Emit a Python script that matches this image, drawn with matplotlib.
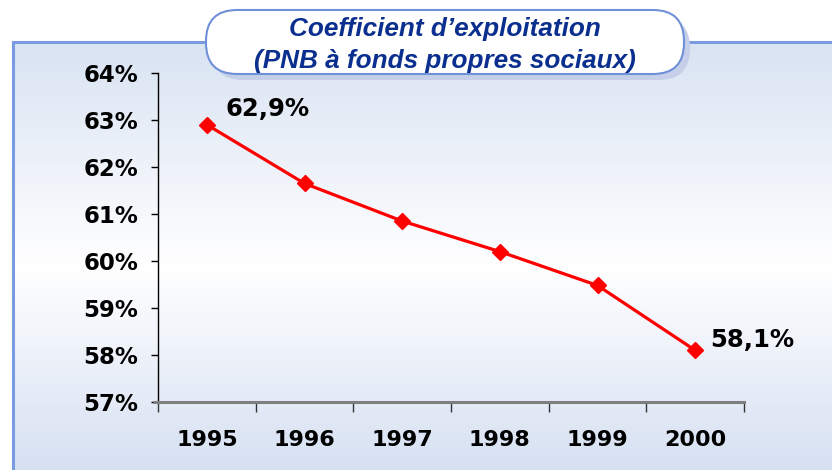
import matplotlib.pyplot as plt
import numpy as np
from matplotlib.patches import FancyBboxPatch
from matplotlib.ticker import FuncFormatter

years = ["1995", "1996", "1997", "1998", "1999", "2000"]
ratio = [62.9, 61.65, 60.85, 60.2, 59.48, 58.1]
y_ticks = [57, 58, 59, 60, 61, 62, 63, 64]
title_lines = ["Coefficient d\u2019exploitation", "(PNB \u00e0 fonds propres sociaux)"]

W, H = 832, 470
fig = plt.figure(figsize=(W / 100, H / 100), dpi=100)

# background layer in pixel units
bg = fig.add_axes([0, 0, 1, 1])
bg.set_xlim(0, W)
bg.set_ylim(H, 0)
bg.axis("off")

# vertical gradient panel: light blue -> white -> light blue
top = np.array([0.85, 0.89, 0.95])
mid = np.array([1.0, 1.0, 1.0])
bot = np.array([0.84, 0.88, 0.95])
t = np.linspace(0, 1, 256)[:, None]
split = 0.52
grad = np.where(t < split,
                top + (mid - top) * (t / split),
                mid + (bot - mid) * ((t - split) / (1 - split)))
img = np.repeat(grad[:, None, :], 2, axis=1)
bg.imshow(img, extent=(13, W + 2, H + 2, 42), aspect="auto", zorder=0)
bg.plot([13, 13, W + 2], [H + 2, 42, 42], color="#7b9be0", lw=2.2, zorder=1,
        solid_joinstyle="miter")

# title box with soft shadow
shadow = FancyBboxPatch((212, 17), 478, 63,
                        boxstyle="round,pad=0,rounding_size=31",
                        fc="#c5cfea", ec="none", zorder=2)
box = FancyBboxPatch((206, 10), 478, 64,
                     boxstyle="round,pad=0,rounding_size=31",
                     fc="white", ec="#7090d8", lw=1.5, zorder=3)
bg.add_patch(shadow)
bg.add_patch(box)
bg.text(445, 29, title_lines[0], ha="center", va="center", fontsize=18.8,
        family="Liberation Sans", weight="bold", style="italic",
        color="#0b2f8f", zorder=4)
bg.text(445, 61, title_lines[1], ha="center", va="center", fontsize=18.8,
        family="Liberation Sans", weight="bold", style="italic",
        color="#0b2f8f", zorder=4)

# main chart
ax = fig.add_axes([158 / W, 1 - 402 / H, (744 - 158) / W, (402 - 73) / H])
ax.patch.set_alpha(0)
x = np.arange(len(years))
ax.plot(x, ratio, color="#ff0000", lw=2.3, marker="D", markersize=8.5,
        markerfacecolor="#ff0000", markeredgecolor="#ff0000", zorder=5,
        clip_on=False)

ax.set_xlim(-0.5, len(years) - 0.5)
ax.set_ylim(57, 64)
ax.set_yticks(y_ticks)
ax.yaxis.set_major_formatter(FuncFormatter(lambda v, p: f"{v:.0f}%"))
ax.set_xticks(np.arange(-0.5, len(years), 1.0))
ax.set_xticklabels([])
ax.set_xticks(x, minor=True)
ax.set_xticklabels(years, minor=True)

for s in ["top", "right"]:
    ax.spines[s].set_visible(False)
ax.spines["left"].set_color("black")
ax.spines["left"].set_linewidth(1.0)
ax.spines["bottom"].set_color("#7f7f7f")
ax.spines["bottom"].set_linewidth(2.2)
# the category axis line runs a little past the value axis on the left
ax.plot([-0.55, -0.5], [57, 57], color="#7f7f7f", lw=2.2, clip_on=False,
        solid_capstyle="butt")

ax.tick_params(axis="y", direction="out", length=5, width=1, color="black",
               pad=9, labelsize=16.5)
ax.tick_params(axis="x", which="major", direction="out", length=7, width=1,
               color="#333333")
ax.tick_params(axis="x", which="minor", length=0, pad=20, labelsize=16)
for lbl in ax.get_yticklabels() + ax.get_xticklabels(minor=True):
    lbl.set_fontweight("bold")
    lbl.set_family("DejaVu Sans")

ax.annotate(f"{ratio[0]:.1f}%".replace(".", ","), (x[0], ratio[0]),
            xytext=(19, 16), textcoords="offset pixels", ha="left", va="center",
            fontsize=17.5, weight="bold")
ax.annotate(f"{ratio[-1]:.1f}%".replace(".", ","), (x[-1], ratio[-1]),
            xytext=(15, 10), textcoords="offset pixels", ha="left", va="center",
            fontsize=17.5, weight="bold")

fig.savefig("out.png", dpi=100)
